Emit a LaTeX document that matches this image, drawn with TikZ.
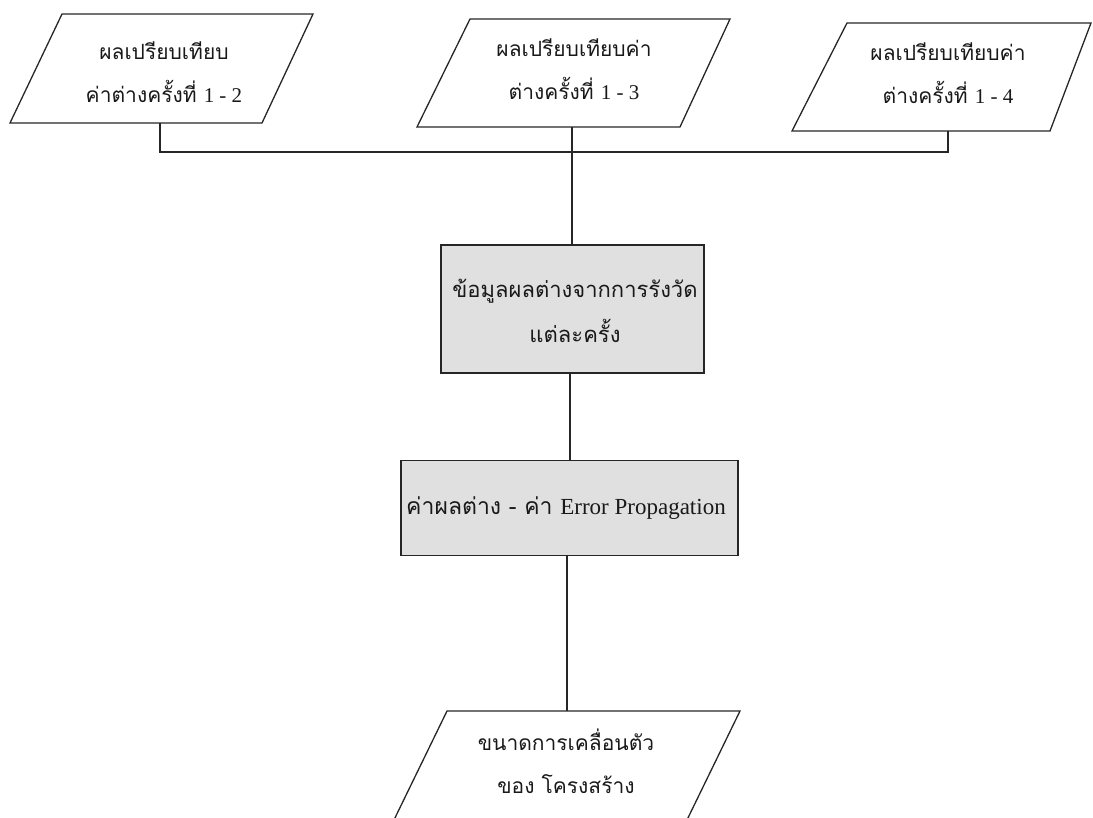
\documentclass[tikz,border=0pt]{standalone}
\usepackage{fontspec}
\newfontfamily\thai[Script=Thai]{Loma}
\newfontfamily\lat{Liberation Serif}
\begin{document}
\begin{tikzpicture}[x=1pt,y=-1pt,
  shapeline/.style={draw=black!85,line width=1.3pt,line join=miter},
  conn/.style={draw=black!85,line width=1.1pt},
  graybox/.style={shapeline,fill=black!12},
  lbl/.style={align=center,font=\thai\fontsize{21}{43}\selectfont,text=black!90,inner sep=0pt},
  lblmid/.style={lbl,font=\thai\fontsize{22}{45}\selectfont},
  lblwide/.style={lbl,font=\thai\fontsize{23}{43}\selectfont}]
\useasboundingbox (0,0) rectangle (1093,818);
\clip (0,0) rectangle (1093,818);
% parallelogram 1
\draw[shapeline] (62,14) -- (313,14) -- (262,123) -- (10,123) -- cycle;
\coordinate (p1b) at (160,123);
\node[lbl] (t1) at (164,72) {ผลเปรียบเทียบ\\ค่าต่างครั้งที่ {\lat 1 - 2}};
% parallelogram 2
\draw[shapeline] (470,19) -- (730,19) -- (680,127) -- (417,127) -- cycle;
\coordinate (p2b) at (572,127);
\node[lbl] (t2) at (574,69) {ผลเปรียบเทียบค่า\\ต่างครั้งที่ {\lat 1 - 3}};
% parallelogram 3
\draw[shapeline] (847,23) -- (1091,23) -- (1050,131) -- (792,131) -- cycle;
\coordinate (p3b) at (948,131);
\node[lbl] (t3) at (948,73) {ผลเปรียบเทียบค่า\\ต่างครั้งที่ {\lat 1 - 4}};
% bus
\coordinate (b1) at (160,152);
\coordinate (b3) at (948,152);
\coordinate (b2) at (572,152);
% rect 1
\node[graybox,minimum width=263pt,minimum height=128pt,inner sep=0pt] (r1) at (572.5,309) {};
\node[lblmid] (t4) at (575,311) {ข้อมูลผลต่างจากการรังวัด\\แต่ละครั้ง};
% rect 2
\node[graybox,minimum width=337pt,minimum height=95pt,inner sep=0pt] (r2) at (569.5,508) {};
\node[lblwide] (t5) at (566,508) {ค่าผลต่าง - ค่า {\lat Error Propagation}};
% parallelogram 4
\draw[shapeline] (447,711) -- (740,711) -- (685,824) -- (392,824) -- cycle;
\coordinate (p4t) at (567,711);
\node[lbl] (t6) at (566,761) {ขนาดการเคลื่อนตัว\\ของ โครงสร้าง};
% connectors
\draw[conn] (p1b) -- (b1) -- (b3) -- (p3b);
\draw[conn] (p2b) -- (r1.north -| p2b);
\draw[conn] (r1.south -| 570,0) -- (r2.north -| 570,0);
\draw[conn] (r2.south -| p4t) -- (p4t);
\end{tikzpicture}
\end{document}
